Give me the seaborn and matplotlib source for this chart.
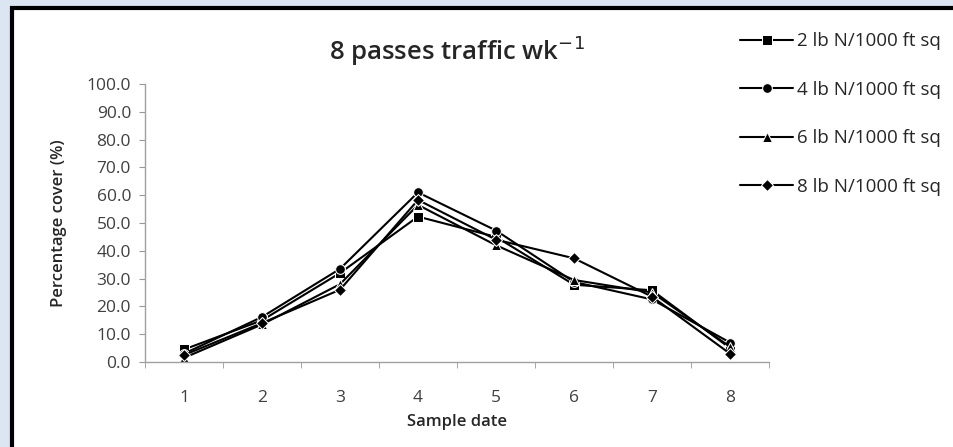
import pandas as pd
from matplotlib import pyplot as plt
from matplotlib.patches import Rectangle
from matplotlib.ticker import FixedLocator, FormatStrFormatter
import seaborn as sns

sample_dates = [1, 2, 3, 4, 5, 6, 7, 8]
rates = ['2 lb N/1000 ft sq', '4 lb N/1000 ft sq', '6 lb N/1000 ft sq', '8 lb N/1000 ft sq']
cover_2lb = [4.5, 15.0, 32.0, 52.3, 45.0, 27.8, 25.8, 5.0]
cover_4lb = [3.0, 16.2, 33.5, 61.0, 47.3, 28.8, 22.5, 7.0]
cover_6lb = [1.5, 13.5, 28.0, 56.5, 42.0, 29.5, 25.0, 5.5]
cover_8lb = [2.5, 14.0, 26.0, 58.3, 44.0, 37.3, 23.5, 3.0]
markers = ['s', 'o', '^', 'D']

rows = []
for rate, vals in zip(rates, [cover_2lb, cover_4lb, cover_6lb, cover_8lb]):
    for d, v in zip(sample_dates, vals):
        rows.append({'Sample date': d, 'Cover': v, 'Rate': rate})
df = pd.DataFrame(rows)

sns.set_style('white')
plt.rcParams['font.family'] = ['Open Sans', 'DejaVu Sans']

fig = plt.figure(figsize=(9.54, 4.47), dpi=100)
fig.patch.set_facecolor('#dce6f2')
# white chart area with black border (runs off the right and bottom edge)
bg = fig.add_axes([0, 0, 1, 1], zorder=-1)
bg.set_axis_off()
bg.set_xlim(0, 954)
bg.set_ylim(447, 0)
bg.add_patch(Rectangle((12, 8), 1000, 500, facecolor='white', edgecolor='black', linewidth=3))

ax = fig.add_axes([145 / 954, 1 - 362 / 447, 624 / 954, 278 / 447])
ax.set_facecolor('none')
sns.lineplot(data=df, x='Sample date', y='Cover', hue='Rate', style='Rate',
             markers=markers, dashes=False, palette=['black'] * 4,
             markersize=7, linewidth=1.5, ax=ax, legend=True)
for line in ax.lines:
    if line.get_marker() == 'D':
        line.set_markersize(6)

ax.set_xlim(0.5, 8.5)
ax.set_ylim(0, 100)
ax.xaxis.set_major_locator(FixedLocator(sample_dates))
ax.xaxis.set_minor_locator(FixedLocator([x + 0.5 for x in range(0, 9)]))
ax.yaxis.set_major_locator(FixedLocator(range(0, 101, 10)))
ax.yaxis.set_major_formatter(FormatStrFormatter('%.1f'))
ax.tick_params(axis='x', which='major', length=0, pad=20, labelsize=12.5, labelcolor='#404040')
ax.tick_params(axis='x', which='minor', length=4, direction='out', color='#999999', bottom=True)
ax.tick_params(axis='y', length=4, direction='out', color='#999999', labelsize=12.5,
               labelcolor='#404040', left=True, pad=6)

for side in ['top', 'right']:
    ax.spines[side].set_visible(False)
for side in ['left', 'bottom']:
    ax.spines[side].set_color('#a0a0a0')
    ax.spines[side].set_linewidth(1)

ax.set_xlabel('Sample date', fontsize=12, fontweight='semibold', labelpad=6)
ax.set_ylabel('Percentage cover (%)', fontsize=12, fontweight='semibold', labelpad=14)
ax.set_title('8 passes traffic wk$^{-1}$', fontsize=18.5, fontweight='semibold', pad=17, x=0.5)

handles, labels = ax.get_legend_handles_labels()
ax.get_legend().remove()
fig.legend(handles, labels, loc='upper left', bbox_to_anchor=(733 / 954, 1 - 25 / 447),
           frameon=False, fontsize=13.5, labelspacing=1.62, handlelength=2.8,
           handletextpad=0.2, borderaxespad=0)

plt.savefig('out.png', dpi=100, facecolor=fig.get_facecolor())
